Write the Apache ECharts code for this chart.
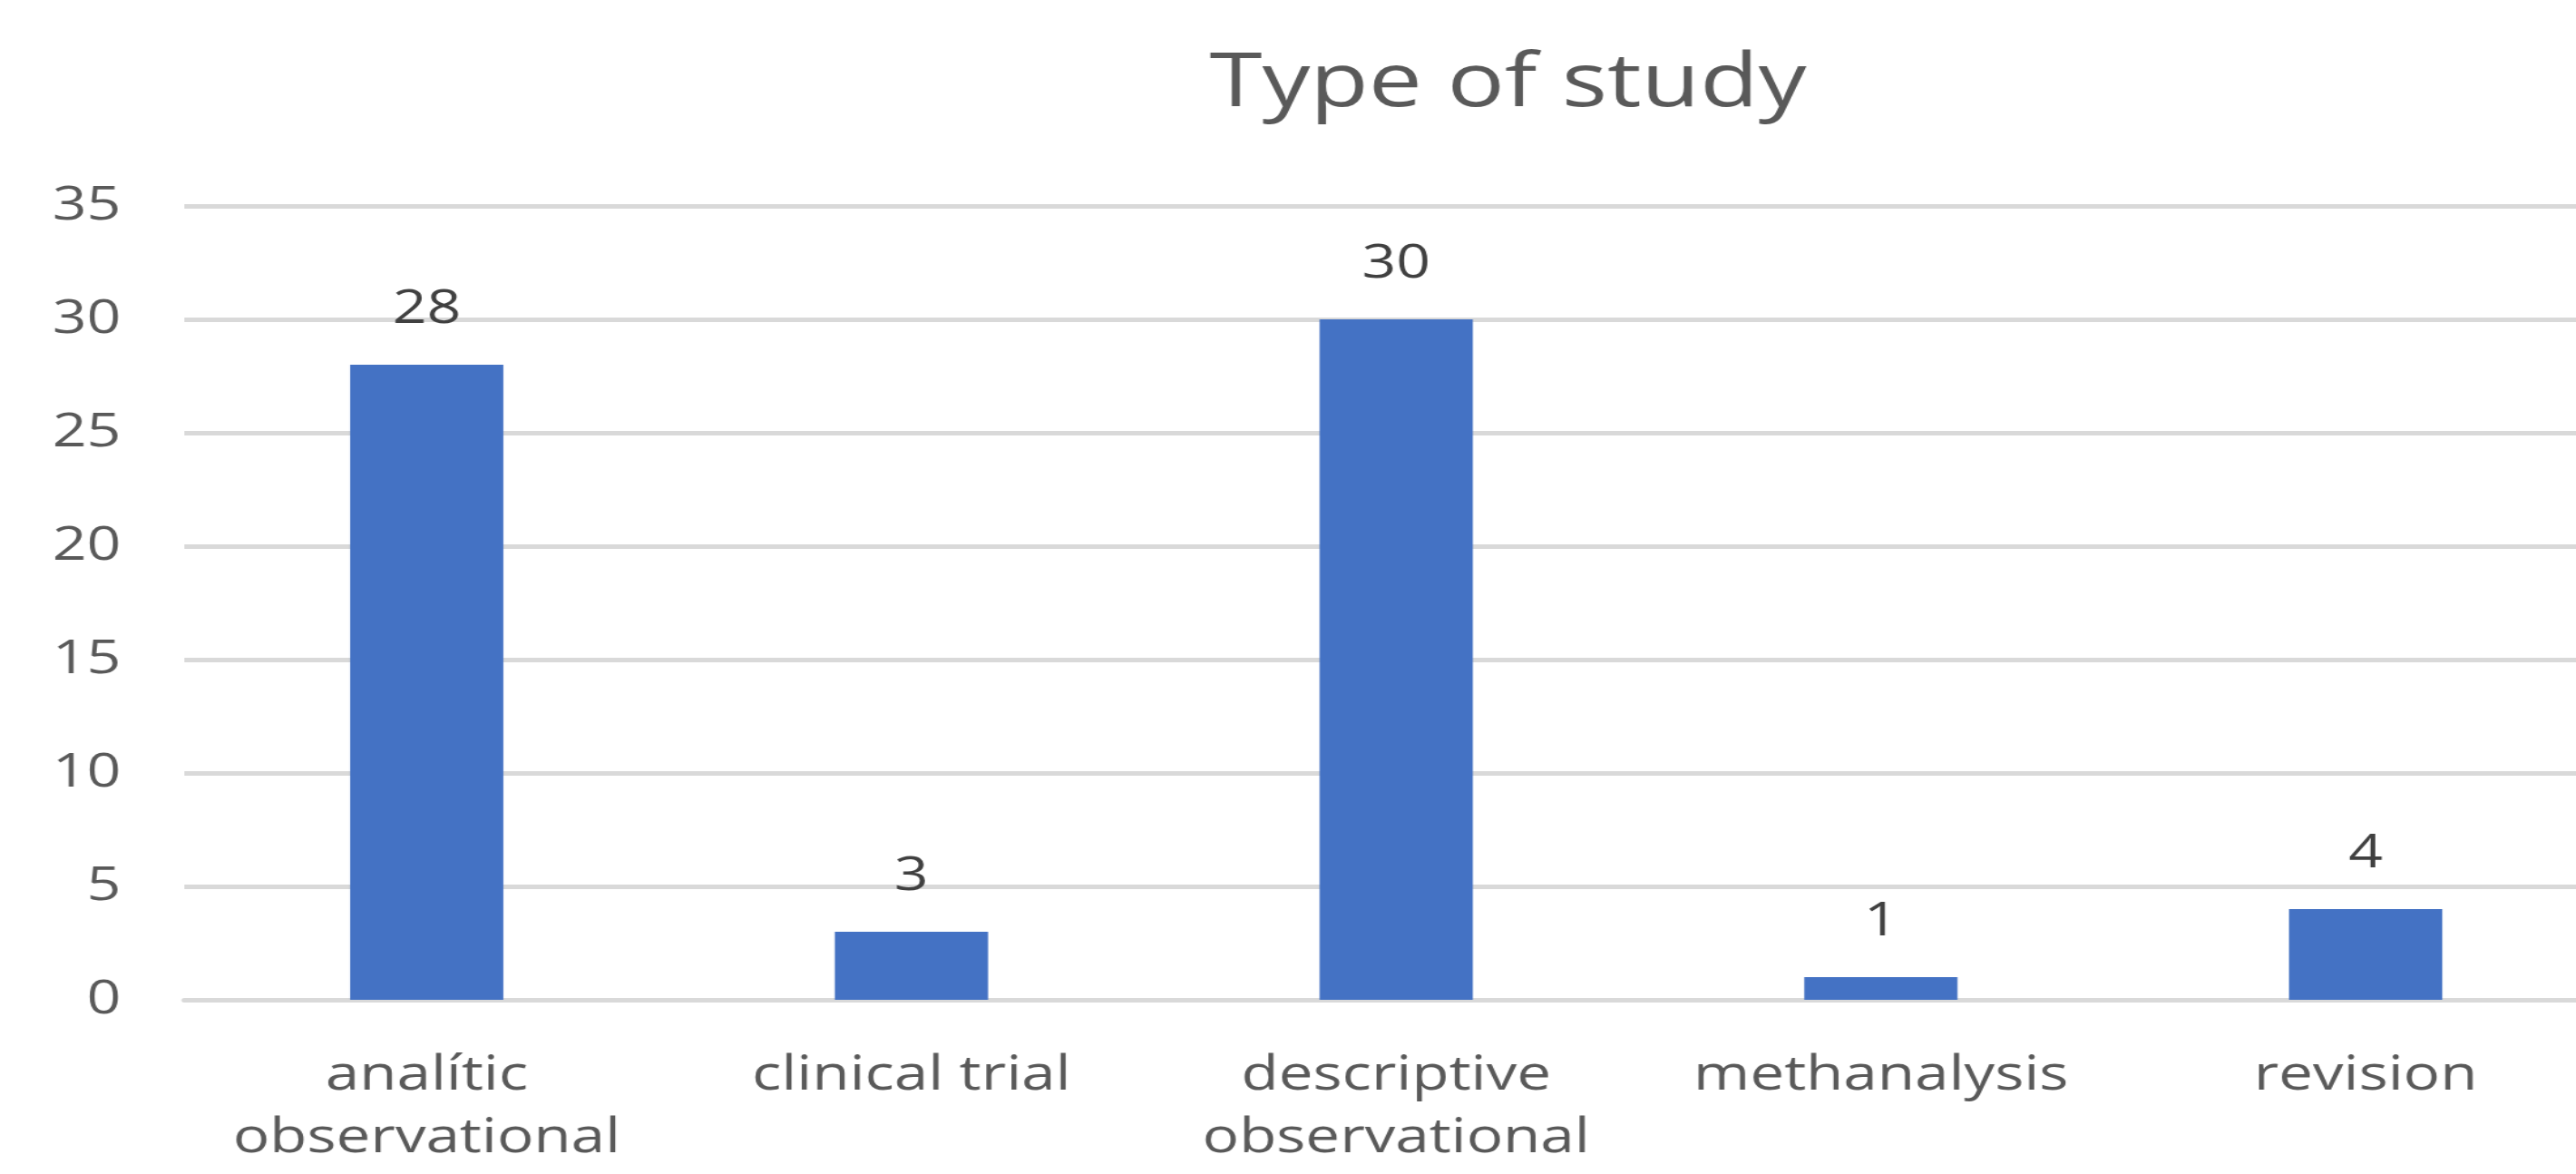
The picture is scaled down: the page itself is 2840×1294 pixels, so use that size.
<!DOCTYPE html>
<html>
<head>
<meta charset="utf-8">
<title>Type of study</title>
<script src="https://cdn.jsdelivr.net/npm/echarts@6/dist/echarts.min.js"></script>
<style>
  html, body { margin: 0; padding: 0; background: #fff; overflow: hidden; }
  /* the source picture is stretched sideways, so draw narrower and widen it.
     the plot runs past the right edge, so the div is a bit wider than the page */
  #chart {
    width: 2300px;
    height: 1294px;
    transform: scaleX(1.27);
    transform-origin: 0 0;
  }
</style>
</head>
<body>
<div id="chart"></div>
<script>
// categories and counts
const categories = [
  "analític\nobservational",
  "clinical trial",
  "descriptive\nobservational",
  "methanalysis",
  "revision"
];
const counts = [28, 3, 30, 1, 4];
const yTicks = [0, 5, 10, 15, 20, 25, 30, 35];

const chart = echarts.init(document.getElementById("chart"));

chart.setOption({
  backgroundColor: "#fff",
  animation: false,
  title: {
    text: "Type of study",
    left: 1050,
    top: 52,
    padding: 0,
    textStyle: {
      fontFamily: "Open Sans",
      fontSize: 83,
      fontWeight: "normal",
      color: "#595959"
    }
  },
  grid: {
    left: 160,
    top: 227,
    right: 36,
    bottom: 192,
    containLabel: false
  },
  xAxis: {
    type: "category",
    data: categories,
    axisTick: { show: false },
    axisLine: { lineStyle: { color: "#D9D9D9", width: 5 } },
    axisLabel: {
      interval: 0,
      margin: 49,
      fontFamily: "Open Sans",
      fontSize: 53,
      lineHeight: 69,
      color: "#595959"
    }
  },
  yAxis: {
    type: "value",
    min: yTicks[0],
    max: yTicks[yTicks.length - 1],
    interval: 5,
    axisLine: { show: false },
    axisTick: { show: false },
    splitLine: { lineStyle: { color: "#D9D9D9", width: 5 } },
    axisLabel: {
      margin: 55,
      fontFamily: "Open Sans",
      fontSize: 52,
      color: "#595959"
    }
  },
  series: [
    {
      type: "bar",
      data: counts,
      barWidth: 133,
      itemStyle: { color: "#4472C4" },
      label: {
        show: true,
        position: "top",
        distance: 35,
        fontFamily: "Open Sans",
        fontSize: 52,
        color: "#404040"
      }
    }
  ]
});
</script>
</body>
</html>
